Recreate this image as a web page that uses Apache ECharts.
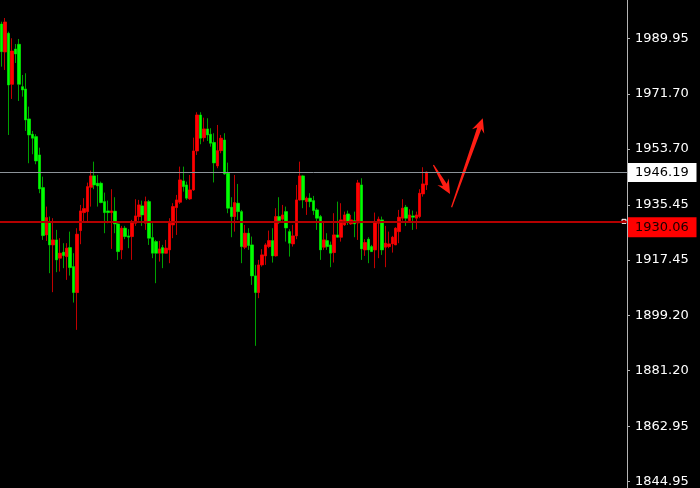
<!DOCTYPE html>
<html><head><meta charset="utf-8">
<script src="https://cdn.jsdelivr.net/npm/echarts@6/dist/echarts.min.js"></script>
<style>html,body{margin:0;padding:0;background:#000;}#c{width:700px;height:488px;}</style>
</head><body><div id="c"></div>
<script>
const opens = [1994.62,1985.47,1991.58,1974.90,1986.45,1987.98,1974.12,1973.37,1963.56,1958.55,
1957.77,1951.78,1941.09,1925.62,1929.78,1922.35,1923.99,1918.01,1919.97,1918.53,
1921.47,1915.26,1906.76,1927.03,1932.92,1933.24,1941.22,1944.92,1942.53,1942.53,
1936.51,1933.47,1932.92,1933.37,1929.22,1920.72,1927.82,1925.30,1925.07,1929.45,
1931.61,1935.11,1929.45,1936.51,1924.74,1923.43,1919.64,1921.47,1919.64,1920.72,
1928.89,1934.55,1936.32,1943.28,1941.97,1937.40,1940.34,1953.09,1964.86,1957.44,
1960.29,1958.55,1955.87,1948.19,1953.19,1956.69,1945.80,1934.68,1931.61,1935.99,
1933.24,1921.60,1926.18,1922.35,1912.22,1906.76,1915.81,1918.76,1921.80,1923.76,
1918.76,1931.61,1930.76,1933.24,1926.70,1922.68,1925.30,1937.07,1944.92,1936.51,
1937.63,1936.84,1933.80,1931.61,1921.60,1923.76,1922.35,1919.84,1925.62,1924.87,
1928.89,1932.49,1929.22,1930.30,1929.55,1941.97,1920.72,1924.22,1921.80,1920.72,
1929.45,1930.53,1921.60,1921.80,1922.68,1922.35,1926.70,1931.09,1934.68,1930.30,
1931.84,1931.09,1931.61,1939.03,1941.97];
const closes = [1985.56,1995.28,1974.67,1985.79,1984.81,1974.90,1973.04,1963.23,1958.32,1957.25,
1949.82,1940.67,1925.40,1931.28,1922.35,1923.99,1917.45,1919.64,1918.86,1921.28,
1914.93,1906.76,1925.85,1933.47,1934.23,1941.42,1944.92,1941.97,1941.65,1936.19,
1932.92,1932.92,1933.47,1929.22,1920.16,1927.82,1925.07,1924.87,1929.65,1931.84,
1935.43,1932.16,1936.51,1924.55,1919.64,1919.64,1921.05,1919.64,1921.28,1929.45,
1934.88,1937.07,1943.61,1941.42,1937.63,1940.34,1953.09,1964.86,1957.25,1960.29,
1958.32,1955.61,1949.17,1953.19,1957.25,1945.57,1934.36,1931.61,1936.19,1933.24,
1921.80,1926.18,1922.13,1912.22,1906.76,1915.81,1919.08,1922.35,1923.76,1918.76,
1931.61,1930.30,1932.16,1927.91,1922.91,1925.30,1937.07,1944.92,1937.07,1937.63,
1936.51,1933.57,1931.09,1920.72,1923.99,1921.80,1919.64,1925.62,1924.87,1930.53,
1932.16,1929.97,1930.53,1929.22,1942.63,1921.05,1923.11,1920.72,1920.16,1929.65,
1930.76,1920.72,1922.91,1922.68,1924.87,1927.82,1931.41,1934.36,1931.09,1932.16,
1931.41,1932.16,1939.26,1942.30,1946.19];
const lows = [1980.66,1979.58,1958.32,1970.10,1981.87,1969.44,1970.85,1959.63,1949.07,1952.01,
1948.74,1939.26,1923.99,1923.66,1913.10,1906.89,1913.43,1913.62,1914.74,1910.91,
1912.32,1903.49,1894.56,1922.58,1929.65,1929.65,1934.88,1940.57,1934.88,1935.99,
1926.18,1929.45,1921.05,1926.18,1917.45,1917.68,1924.22,1921.28,1917.45,1928.57,
1930.30,1928.57,1927.26,1922.35,1918.01,1909.83,1916.89,1914.74,1919.58,1916.37,
1924.55,1925.62,1935.76,1939.78,1937.07,1937.07,1940.01,1951.78,1955.28,1956.13,
1956.36,1954.50,1942.79,1947.44,1952.34,1945.24,1932.72,1924.87,1926.70,1930.53,
1916.37,1920.95,1920.72,1909.27,1889.33,1904.93,1915.26,1915.81,1921.28,1916.57,
1918.53,1929.22,1930.30,1923.43,1918.53,1921.80,1924.22,1936.84,1934.36,1932.16,
1934.68,1932.16,1927.26,1917.45,1920.72,1920.72,1915.06,1916.57,1924.80,1923.43,
1928.57,1928.89,1928.89,1924.87,1923.99,1917.45,1918.76,1916.37,1920.16,1914.74,
1918.01,1919.08,1915.06,1921.28,1919.84,1922.35,1922.91,1930.30,1928.57,1929.65,
1927.26,1927.49,1931.09,1938.15,1940.34];
const highs = [1995.37,1996.58,1992.10,1989.95,1988.08,1989.72,1977.94,1978.50,1967.58,1959.63,
1958.55,1954.17,1944.69,1934.88,1931.61,1931.09,1927.26,1924.55,1922.91,1922.91,
1926.70,1919.64,1927.82,1935.43,1937.63,1942.73,1946.65,1949.59,1945.24,1943.05,
1939.46,1936.84,1940.57,1937.95,1929.65,1928.57,1928.57,1927.49,1930.53,1937.30,
1937.07,1936.84,1938.15,1937.07,1929.45,1923.99,1923.66,1922.35,1923.99,1931.09,
1935.99,1938.70,1947.96,1947.96,1943.05,1945.24,1957.44,1965.75,1965.75,1963.98,
1963.79,1960.52,1958.88,1961.59,1958.32,1958.88,1949.27,1937.95,1945.24,1942.30,
1933.80,1928.89,1927.82,1925.07,1915.81,1917.45,1920.95,1922.91,1927.03,1927.82,
1934.36,1937.95,1935.43,1934.88,1927.49,1928.89,1941.97,1949.59,1945.24,1938.15,
1939.26,1938.38,1934.36,1932.16,1929.97,1926.18,1923.43,1932.72,1936.51,1935.99,
1933.24,1933.57,1932.16,1933.24,1943.61,1944.16,1924.22,1924.87,1922.35,1932.92,
1931.61,1931.61,1928.57,1926.70,1925.30,1928.14,1933.80,1937.30,1935.43,1934.03,
1933.57,1933.24,1940.57,1947.76,1946.40];
const tickValues = [1844.95,1862.95,1881.20,1899.20,1917.45,1935.45,1953.70,1971.70,1989.95];
const bidPrice = 1946.19;
const levelPrice = 1930.06;
const slotCount = 183;
const categories = Array.from({length: slotCount}, (_, i) => String(i + 1));
const arrowTails = [[126.0, 1948.51], [131.3, 1934.68]];
const arrowTips = [[130.85, 1939.03], [140.4, 1963.78]];

const candleData = opens.map((o, i) => [o, closes[i], lows[i], highs[i]]);
const bodyData = opens.map((o, i) => [o, closes[i], Math.min(o, closes[i]), Math.max(o, closes[i])]);
const arrowData = arrowTails.map((t, i) => [t[0], t[1], arrowTips[i][0], arrowTips[i][1]]);

const chart = echarts.init(document.getElementById('c'), null, {renderer: 'canvas'});
chart.setOption({
  backgroundColor: '#000',
  animation: false,
  grid: {left: 0, right: 73, top: 0, bottom: 0},
  xAxis: [
    {type: 'category', data: categories, boundaryGap: true, show: false},
    {type: 'value', min: -0.5, max: slotCount - 0.5, show: false}
  ],
  yAxis: {
    type: 'value', position: 'right', min: 1842.89, max: 2002.47,
    splitLine: {show: false},
    axisLine: {show: true, onZero: false, lineStyle: {color: '#b4b4b4', width: 1}},
    axisTick: {show: true, length: 3, lineStyle: {color: '#b4b4b4'}, customValues: tickValues},
    axisLabel: {color: '#ffffff', fontFamily: 'DejaVu Sans', fontSize: 13, margin: 8, padding: [4, 0, 0, 0],
      customValues: tickValues, formatter: v => v.toFixed(2)}
  },
  series: [
    {
      type: 'candlestick', data: candleData, barWidth: 3, silent: true,
      itemStyle: {color: '#c00000', color0: '#00a000', borderColor: '#c00000', borderColor0: '#00a000', borderWidth: 1},
      markLine: {
        silent: true, symbol: 'none', label: {show: false},
        data: [
          {yAxis: bidPrice, lineStyle: {color: '#8c9399', width: 1, type: 'solid'}},
          {yAxis: levelPrice, lineStyle: {color: '#b40000', width: 2, type: 'solid'}}
        ]
      }
    },
    {
      type: 'candlestick', data: bodyData, barWidth: 3, silent: true,
      itemStyle: {color: '#ff0000', color0: '#00ff00', borderColor: '#ff0000', borderColor0: '#00ff00', borderWidth: 0}
    },
    {
      type: 'custom', xAxisIndex: 1, yAxisIndex: 0, data: arrowData, silent: true, clip: false,
      renderItem: function (params, api) {
        const s = api.coord([api.value(0), api.value(1)]);
        const e = api.coord([api.value(2), api.value(3)]);
        const dx = e[0] - s[0], dy = e[1] - s[1], len = Math.hypot(dx, dy);
        const ux = dx / len, uy = dy / len, nx = -uy, ny = ux;
        const hl = 14, hw = 6.5, tw = 0.6, sw = 2.2;
        const bx = e[0] - ux * hl, by = e[1] - uy * hl;
        const jx = bx + ux * 3.5, jy = by + uy * 3.5;
        const pts = [
          [s[0] + nx * tw, s[1] + ny * tw],
          [jx + nx * sw, jy + ny * sw],
          [bx + nx * hw, by + ny * hw],
          [e[0], e[1]],
          [bx - nx * hw, by - ny * hw],
          [jx - nx * sw, jy - ny * sw],
          [s[0] - nx * tw, s[1] - ny * tw]
        ];
        return {type: 'polygon', shape: {points: pts}, style: {fill: '#ff1e14'}};
      }
    }
  ]
});

const yBid = chart.convertToPixel({yAxisIndex: 0}, bidPrice);
const yLvl = chart.convertToPixel({yAxisIndex: 0}, levelPrice);
const xAx = chart.convertToPixel({xAxisIndex: 1}, slotCount - 0.5);
chart.setOption({
  graphic: [
    {type: 'rect', shape: {x: xAx + 0.5, y: yBid - 9, width: 69, height: 19}, style: {fill: '#ffffff'}},
    {type: 'text', x: xAx + 8, y: yBid + 0.5, style: {text: bidPrice.toFixed(2), fill: '#000000', font: '13px "DejaVu Sans"', verticalAlign: 'middle', align: 'left'}},
    {type: 'rect', shape: {x: xAx + 0.5, y: yLvl - 4, width: 69, height: 20}, style: {fill: '#ff0000'}},
    {type: 'text', x: xAx + 8, y: yLvl + 6.5, style: {text: levelPrice.toFixed(2), fill: '#1a0000', font: '13px "DejaVu Sans"', verticalAlign: 'middle', align: 'left'}},
    {type: 'rect', shape: {x: xAx - 5, y: yLvl - 2, width: 4, height: 4}, style: {fill: '#b40000', stroke: '#ffffff', lineWidth: 1}}
  ]
});
</script>
</body></html>
